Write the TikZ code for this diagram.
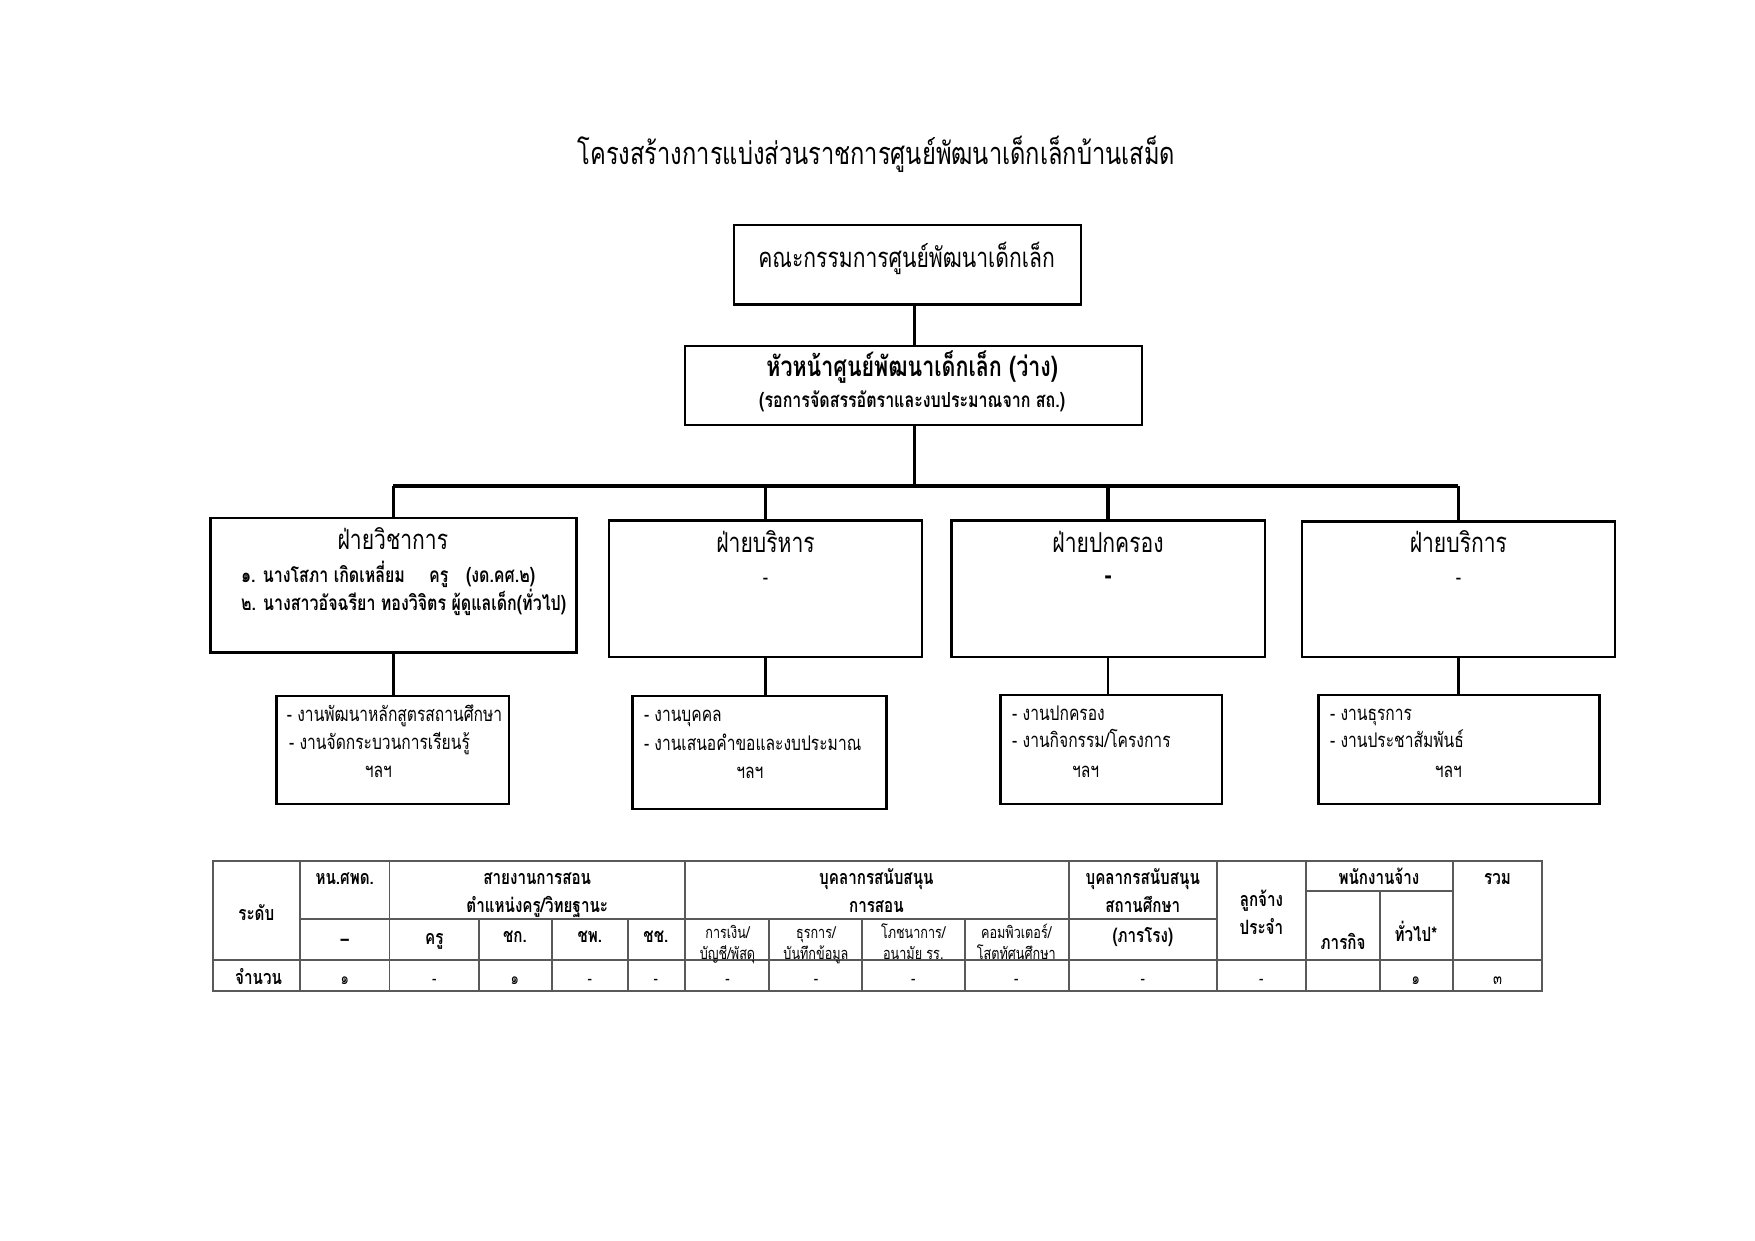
\documentclass[tikz,border=0pt]{standalone}
\usepackage{fontspec}
\setmainfont[Script=Thai, FakeStretch=0.77]{Loma}
\usetikzlibrary{fit}
\tikzset{
  box/.style={draw, line width=1.1pt, inner sep=0pt},
  link/.style={line width=1.1pt},
  busline/.style={line width=1.7pt},
  t/.style={inner sep=0pt, text height=0.75em, text depth=0.25em, yshift=-0.5mm},
  tw/.style={t, anchor=west},
  grid/.style={draw=black!65, line width=0.9pt},
  fT/.style={font=\fontsize{14.8}{17}\selectfont},
  fH/.style={font=\fontsize{13.2}{15}\selectfont},
  fHb/.style={font=\bfseries\fontsize{13.4}{15}\selectfont},
  fS/.style={font=\fontsize{10}{12}\selectfont},
  fSb/.style={font=\bfseries\fontsize{10}{12}\selectfont},
  fL/.style={font=\fontsize{9.75}{11}\selectfont},
  fTab/.style={font=\bfseries\fontsize{9.5}{11}\selectfont},
  fTs/.style={font=\fontsize{7.9}{9}\selectfont},
  fN/.style={font=\fontsize{8.2}{9}\selectfont},
}
\begin{document}
\begin{tikzpicture}[x=0.18941mm, y=-0.18941mm]
\useasboundingbox (0,0) rectangle (1568,1108.7);

% title
\node[t, fT] (ttl) at (783,140) {โครงสร้างการแบ่งส่วนราชการศูนย์พัฒนาเด็กเล็กบ้านเสม็ด};

% boxes
\node[box, fit={(656,201) (966,272)}] (b1) {};
\node[box, fit={(612,309) (1020,380)}] (b2) {};
\node[box, fit={(188,463) (515,583)}] (dA) {};
\node[box, fit={(544,465) (824,587)}] (dB) {};
\node[box, fit={(850,465) (1130,587)}] (dC) {};
\node[box, fit={(1163,466) (1443,587)}] (dD) {};
\node[box, fit={(247,622) (455,718)}] (sA) {};
\node[box, fit={(565,622) (792,723)}] (sB) {};
\node[box, fit={(894,621) (1092,718)}] (sC) {};
\node[box, fit={(1178,621) (1429,718)}] (sD) {};

% connectors
\coordinate (busmid) at (817,434);
\coordinate (busL) at (351,434);
\coordinate (busR) at (1303,434);
\draw[link] (busmid |- b1.south) -- (busmid |- b2.north);
\draw[busline] (busmid |- b2.south) -- (busmid);
\draw[busline] (busL) -- (busR);
\draw[busline] (dA.north |- busL) -- (dA.north);
\draw[busline] (dB.north |- busL) -- (dB.north);
\draw[busline] (dC.north |- busL) -- (dC.north);
\draw[busline] (dD.north |- busL) -- (dD.north);
\draw[link] (dA.south) -- (dA.south |- sA.north);
\draw[link] (dB.south) -- (dB.south |- sB.north);
\draw[link] (dC.south) -- (dC.south |- sC.north);
\draw[link] (dD.south) -- (dD.south |- sD.north);

% box texts
\node[t, fH] (b1t) at (810,232) {คณะกรรมการศูนย์พัฒนาเด็กเล็ก};
\node[t, fHb] (b2t) at (815,329) {หัวหน้าศูนย์พัฒนาเด็กเล็ก (ว่าง)};
\node[t, fSb] (b2s) at (815,357) {(รอการจัดสรรอัตราและงบประมาณจาก สถ.)};

\node[t, fH] (dAt) at (351,484) {ฝ่ายวิชาการ};
\node[tw, fSb] (dA1a) at (215,513) {๑. นางโสภา เกิดเหลี่ยม};
\node[tw, fSb] (dA1b) at (383,513) {ครู};
\node[tw, fSb] (dA1c) at (416,513) {(งด.คศ.๒)};
\node[tw, fSb] (dA2) at (215,538) {๒. นางสาวอัจฉรียา ทองวิจิตร ผู้ดูแลเด็ก(ทั่วไป)};

\node[t, fH] (dBt) at (684,486) {ฝ่ายบริหาร};
\node[t, fS] (dBd) at (684,515) {-};
\node[t, fH] (dCt) at (990,486) {ฝ่ายปกครอง};
\node[t, fHb] (dCd) at (990,515) {-};
\node[t, fH] (dDt) at (1303,486) {ฝ่ายบริการ};
\node[t, fS] (dDd) at (1303,515) {-};

\node[tw, fL] (sA1) at (256,637) {- งานพัฒนาหลักสูตรสถานศึกษา};
\node[tw, fL] (sA2) at (258,662) {- งานจัดกระบวนการเรียนรู้};
\node[t, fL] (sA3) at (338,687) {ฯลฯ};
\node[tw, fL] (sB1) at (575,637) {- งานบุคคล};
\node[tw, fL] (sB2) at (575,663) {- งานเสนอคำขอและงบประมาณ};
\node[t, fL] (sB3) at (670,688) {ฯลฯ};
\node[tw, fL] (sC1) at (904,636) {- งานปกครอง};
\node[tw, fL] (sC2) at (904,661) {- งานกิจกรรม/โครงการ};
\node[t, fL] (sC3) at (970,687) {ฯลฯ};
\node[tw, fL] (sD1) at (1188,636) {- งานธุรการ};
\node[tw, fL] (sD2) at (1188,661) {- งานประชาสัมพันธ์};
\node[t, fL] (sD3) at (1294,687) {ฯลฯ};

% table grid
\draw[grid] (190,769) rectangle (1378,885);
\draw[grid] (190,858) -- (1378,858);
\draw[grid] (268,821) -- (1087,821);
\draw[grid] (1167,796) -- (1298,796);
\foreach \x in {268,348,612,955,1087,1167,1298} \draw[grid] (\x,769) -- (\x,885);
\foreach \x in {428,493,561,687,770,862} \draw[grid] (\x,821) -- (\x,885);
\draw[grid] (1233,796) -- (1233,885);

% table header
\node[t, fTab] (h1) at (229,815) {ระดับ};
\node[t, fTab] (h2) at (308,783) {หน.ศพด.};
\node[t, fTab] (h2b) at (308,838) {–};
\node[t, fTab] (h3) at (480,783) {สายงานการสอน};
\node[t, fTab] (h3b) at (480,808) {ตำแหน่งครู/วิทยฐานะ};
\node[t, fTab] (h4) at (388,837) {ครู};
\node[t, fTab] (h5) at (460,835) {ชก.};
\node[t, fTab] (h6) at (527,835) {ชพ.};
\node[t, fTab] (h7) at (586,835) {ชช.};
\node[t, fTab] (h8) at (783,783) {บุคลากรสนับสนุน};
\node[t, fTab] (h8b) at (783,808) {การสอน};
\node[t, fTs] (h9) at (650,831) {การเงิน/};
\node[t, fTs] (h9b) at (650,850) {บัญชี/พัสดุ};
\node[t, fTs] (h10) at (729,831) {ธุรการ/};
\node[t, fTs] (h10b) at (729,850) {บันทึกข้อมูล};
\node[t, fTs] (h11) at (816,831) {โภชนาการ/};
\node[t, fTs] (h11b) at (816,850) {อนามัย รร.};
\node[t, fTs] (h12) at (908,831) {คอมพิวเตอร์/};
\node[t, fTs] (h12b) at (908,850) {โสตทัศนศึกษา};
\node[t, fTab] (h13) at (1021,783) {บุคลากรสนับสนุน};
\node[t, fTab] (h13b) at (1021,808) {สถานศึกษา};
\node[t, fTab] (h13c) at (1021,835) {(ภารโรง)};
\node[t, fTab] (h14) at (1127,803) {ลูกจ้าง};
\node[t, fTab] (h14b) at (1127,828) {ประจำ};
\node[t, fTab] (h15) at (1232,783) {พนักงานจ้าง};
\node[t, fTab] (h16) at (1200,841) {ภารกิจ};
\node[t, fTab] (h17) at (1265,834) {ทั่วไป*};
\node[t, fTab] (h18) at (1338,783) {รวม};

% table values
\node[t, fTab] (r0) at (231,872) {จำนวน};
\foreach \x/\v [count=\i] in {308/๑, 388/-, 460/๑, 527/-, 586/-, 650/-, 729/-, 816/-, 908/-, 1021/-, 1127/-, 1265/๑, 1338/๓}
  \node[t, fN] (r\i) at (\x,872) {\v};
\end{tikzpicture}
\end{document}
